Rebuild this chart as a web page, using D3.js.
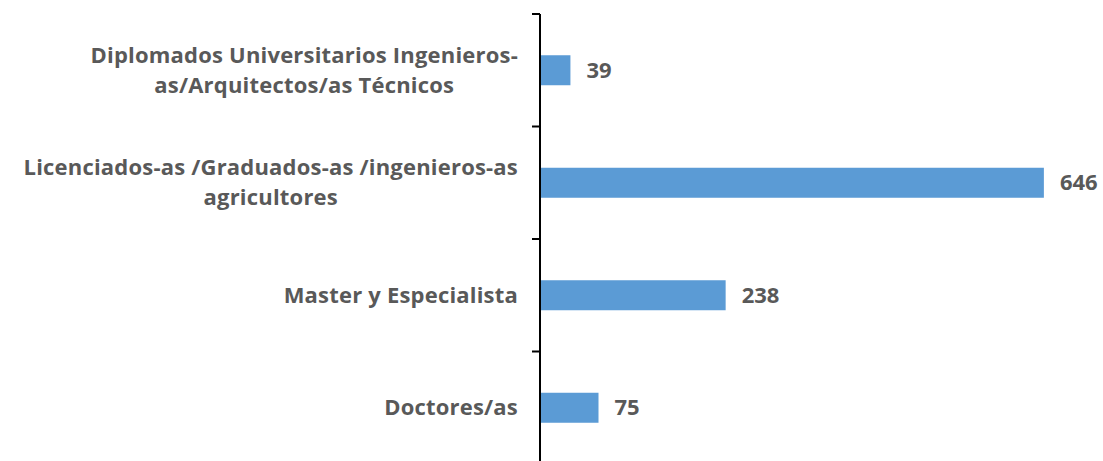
<!DOCTYPE html>
<html>
<head>
<meta charset="utf-8">
<script src="https://cdn.jsdelivr.net/npm/d3@7"></script>
<style>
  html, body { margin: 0; padding: 0; background: #fff; }
  svg { display: block; }
</style>
</head>
<body>
<svg id="chart"></svg>
<script>
// categories, top to bottom (each label split into its lines)
const categories = [
  ["Diplomados Universitarios Ingenieros-", "as/Arquitectos/as Técnicos"],
  ["Licenciados-as /Graduados-as /ingenieros-as", "agricultores"],
  ["Master y Especialista"],
  ["Doctores/as"]
];
const values = [39, 646, 238, 75];

const width = 1103
const height = 461
const axisX = 540
const font = "'Open Sans', sans-serif"
const fontSize = 22

const svg = d3.select("#chart")
  .attr("width", width)
  .attr("height", height);

const y = d3.scaleBand()
  .domain(d3.range(categories.length))
  .range([14, 464]);

const x = d3.scaleLinear()
  .domain([0, 700])
  .range([axisX, axisX + 546]);

const barH = 30;

// bars
svg.selectAll("rect.bar")
  .data(values)
  .join("rect")
  .attr("class", "bar")
  .attr("x", x(0))
  .attr("y", (d, i) => y(i) + y.bandwidth() / 2 - barH / 2)
  .attr("width", d => x(d) - x(0))
  .attr("height", barH)
  .attr("fill", "#5B9BD5");

// value labels
svg.selectAll("text.val")
  .data(values)
  .join("text")
  .attr("class", "val")
  .attr("x", d => x(d) + 16)
  .attr("y", (d, i) => y(i) + y.bandwidth() / 2)
  .attr("dy", "0.35em")
  .attr("font-family", font)
  .attr("font-weight", 700)
  .attr("font-size", fontSize)
  .attr("fill", "#595959")
  .text(d => d);

// axis: line + ticks at band boundaries
const axis = svg.append("g");
axis.append("line")
  .attr("x1", axisX).attr("x2", axisX)
  .attr("y1", y.range()[0]).attr("y2", y.range()[1])
  .attr("stroke", "#000").attr("stroke-width", 2);

const tickYs = d3.range(categories.length).map(i => y(i));
axis.selectAll("line.tick")
  .data(tickYs)
  .join("line")
  .attr("class", "tick")
  .attr("x1", axisX - 8).attr("x2", axisX)
  .attr("y1", d => d).attr("y2", d => d)
  .attr("stroke", "#000").attr("stroke-width", 2);

// category labels: one text per category, lines as tspans,
// block right-aligned at labelRight, lines centered within the block
const lineH = 30;
const labelRight = axisX - 22;
const labels = svg.selectAll("text.lab")
  .data(categories)
  .join("text")
  .attr("class", "lab")
  .attr("font-family", font)
  .attr("font-weight", 700)
  .attr("font-size", fontSize)
  .attr("letter-spacing", "0.2px")
  .attr("fill", "#595959")
  .attr("text-anchor", "middle");

labels.each(function(lines, i) {
  const t = d3.select(this);
  const spans = t.selectAll("tspan")
    .data(lines)
    .join("tspan")
    .attr("dy", "0.35em")
    .text(d => d);
  let maxW = 0;
  spans.each(function() { maxW = Math.max(maxW, this.getComputedTextLength()); });
  const cx = labelRight - maxW / 2;
  const cy = y(i) + y.bandwidth() / 2;
  spans.attr("x", cx)
    .attr("y", (d, j) => cy + (j - (lines.length - 1) / 2) * lineH);
});
</script>
</body>
</html>
